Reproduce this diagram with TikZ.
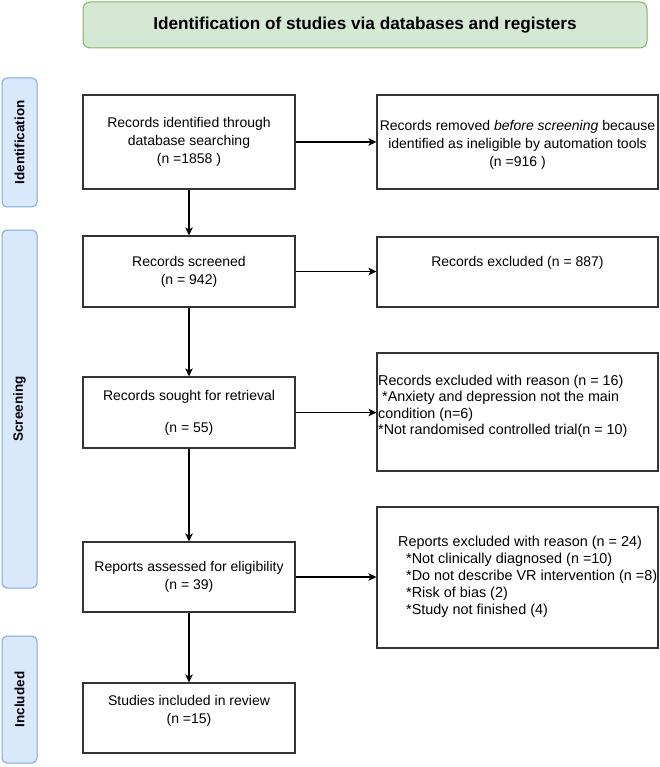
\documentclass[tikz,border=0pt]{standalone}
\usepackage{fontspec}
\setmainfont{Liberation Sans}
\usetikzlibrary{arrows.meta}
\definecolor{tgreen}{HTML}{D5E8D4}
\definecolor{tgreenline}{HTML}{82B366}
\definecolor{sblue}{HTML}{DAE8FC}
\definecolor{sblueline}{HTML}{7EA6E0}
\definecolor{boxline}{HTML}{333333}
\tikzset{
  boxbase/.style={draw=boxline, line width=1.1pt, inner sep=0pt, align=center,
    font=\fontsize{14}{18}\selectfont},
  lbox/.style={boxbase, minimum width=212pt},
  rbox/.style={boxbase, minimum width=281pt},
  plain/.style={inner sep=0pt, align=center, font=\fontsize{14}{18}\selectfont},
  lefttext/.style={inner sep=1pt, align=left, anchor=west},
  sidelabel/.style={draw=sblueline, fill=sblue, line width=1pt, rounded corners=5pt,
    rotate=90, minimum height=35pt, inner sep=0pt,
    font=\fontsize{13.5}{16}\selectfont\bfseries},
  titlebox/.style={draw=tgreenline, fill=tgreen, line width=1pt, rounded corners=7pt,
    minimum width=564pt, minimum height=46pt, inner sep=0pt,
    font=\fontsize{17.2}{20}\selectfont\bfseries},
  arr/.style={draw=black, line width=1.1pt, -{Stealth[length=8pt,width=7.5pt,inset=2pt]}}
}
\begin{document}
\begin{tikzpicture}[x=1pt,y=-1pt]
\useasboundingbox (0,0) rectangle (660,767);

% title
\node[titlebox] (title) at (365,25) {Identification of studies via databases and registers};

% side labels
\node[sidelabel, minimum width=129pt] (lid) at (19.5,142.5) {Identification};
\node[sidelabel, minimum width=358pt] (lscr) at (19.5,409) {Screening};
\node[sidelabel, minimum width=127pt] (linc) at (19.5,699.5) {Included};

% left column
\node[lbox, minimum height=94pt] (ident) at (189,142) {Records identified through\\database searching\\(n =1858 )};
\node[lbox, minimum height=71pt] (screened) at (189,271.5) {Records screened\\(n = 942)};
\node[lbox, minimum height=71pt] (sought) at (189,412.5) {Records sought for retrieval\\[14pt](n = 55)};
\node[lbox, minimum height=70pt] (assessed) at (189,577) {Reports assessed for eligibility\\(n = 39)};
\node[lbox, minimum height=70pt] (studies) at (189,718) {};
\node[plain] (studiestxt) at (189,711) {Studies included in review\\(n =15)};

% right column
\node[rbox, minimum height=94pt] (removed) at (517.5,142) {};
\node[plain] (removedtxt) at (517.5,144.5) {Records removed \textit{before screening} because\\identified as ineligible by automation tools\\(n =916 )};
\node[rbox, minimum height=70pt] (excl) at (517.5,272) {};
\node[plain] (excltxt) at (517.5,263) {Records excluded (n = 887)};
\node[rbox, minimum height=118pt] (reasons) at (517.5,412) {};
\node[plain, lefttext, font=\fontsize{14.3}{16.5}\selectfont] (reasonstxt) at (377,406.5)
  {Records excluded with reason (n = 16)\\
   \hspace{4pt}*Anxiety and depression not the main\\
   condition (n=6)\\
   *Not randomised controlled trial(n = 10)};
\node[rbox, minimum height=141pt] (reports) at (517.5,577.5) {};
\node[plain, lefttext, font=\fontsize{14.4}{17}\selectfont] (reportstxt) at (397,577)
  {Reports excluded with reason (n = 24)\\
   \hspace{8pt}*Not clinically diagnosed (n =10)\\
   \hspace{8pt}*Do not describe VR intervention (n =8)\\
   \hspace{8pt}*Risk of bias (2)\\
   \hspace{8pt}*Study not finished (4)};

% vertical arrows
\draw[arr] (ident.south) -- (screened.north);
\draw[arr] (screened.south) -- (sought.north);
\draw[arr] (sought.south) -- (assessed.north);
\draw[arr] (assessed.south) -- (studies.north);

% horizontal arrows
\draw[arr] (ident.east) -- (removed.west);
\draw[arr] (screened.east) -- (screened.east -| excl.west);
\draw[arr] (sought.east) -- (sought.east -| reasons.west);
\draw[arr] (assessed.east) -- (assessed.east -| reports.west);
\end{tikzpicture}
\end{document}
